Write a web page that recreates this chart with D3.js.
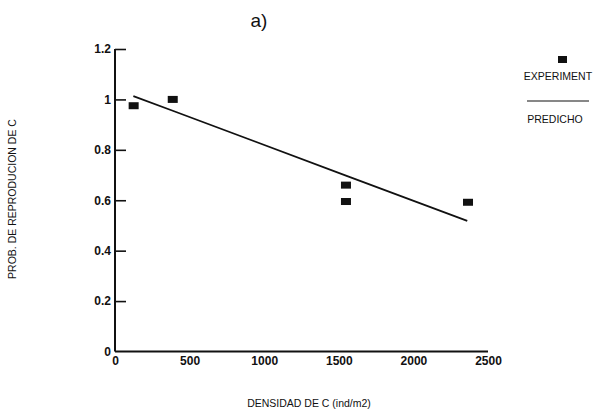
<!DOCTYPE html>
<html>
<head>
<meta charset="utf-8">
<script src="https://cdn.jsdelivr.net/npm/d3@7"></script>
<style>
  html, body { margin: 0; padding: 0; background: #fff; }
  svg { display: block; }
  text { font-family: "Liberation Sans", Arial, sans-serif; fill: #111; }
</style>
</head>
<body>
<svg id="chart" width="596" height="410"></svg>
<script>
// Observed reproduction probability vs. density of C
const densidadObs = [125, 387, 1548, 1548, 2366];
const probObs = [0.975, 1.0, 0.66, 0.595, 0.592];

// Model prediction (linear)
const densidadPred = [123, 387, 1548, 2361];
const probPred = [1.013, 0.955, 0.698, 0.518];

const xTicks = [0, 500, 1000, 1500, 2000, 2500];
const yTicks = [0, 0.2, 0.4, 0.6, 0.8, 1, 1.2];

const svg = d3.select("#chart");
const x = d3.scaleLinear().domain([0, 2500]).range([115, 488]);
const y = d3.scaleLinear().domain([0, 1.2]).range([351.5, 49]);

// Title
svg.append("text").attr("x", 259).attr("y", 27)
  .attr("text-anchor", "middle").style("font-size", "19px")
  .text("a)");

// Y axis: labels from d3.axisLeft, tick marks pointing inward
const yAxis = d3.axisLeft(y).tickValues(yTicks).tickSize(0).tickPadding(4)
  .tickFormat(d3.format("~g"));
const gy = svg.append("g").attr("transform", `translate(${x(0)},0)`).call(yAxis);
gy.select(".domain").attr("d", `M0,${y(1.2)}V${y(0)}`).attr("stroke", "#111").attr("stroke-width", 2);
gy.selectAll(".tick line").remove();
gy.selectAll(".tick").filter(d => d !== 0).append("line")
  .attr("x1", 0).attr("x2", 11).attr("stroke", "#111").attr("stroke-width", 1.6);
gy.selectAll(".tick text")
  .style("font-size", "12px").style("font-weight", "bold").attr("fill", "#111");

// X axis: line with labels, no tick marks
const xAxis = d3.axisBottom(x).tickValues(xTicks).tickSize(0).tickFormat(d3.format("d"));
const gx = svg.append("g").attr("transform", `translate(0,${y(0)})`).call(xAxis);
gx.select(".domain").attr("d", `M${x(0)},0H${x(2500)}`).attr("stroke", "#111").attr("stroke-width", 2);
gx.selectAll(".tick text").attr("y", 5)
  .style("font-size", "12px").style("font-weight", "bold").attr("fill", "#111");

// Axis titles
svg.append("text").attr("x", 309).attr("y", 407).attr("text-anchor", "middle")
  .style("font-size", "10.5px").text("DENSIDAD DE C (ind/m2)");
svg.append("text").attr("transform", "translate(16,199) rotate(-90)")
  .attr("text-anchor", "middle").style("font-size", "10.5px")
  .text("PROB. DE REPRODUCION DE C");

// Prediction line
svg.append("path")
  .datum(densidadPred.map((d, i) => [d, probPred[i]]))
  .attr("fill", "none").attr("stroke", "#111").attr("stroke-width", 1.8)
  .attr("d", d3.line().x(d => x(d[0])).y(d => y(d[1])));

// Observed points (filled rectangles)
svg.selectAll("rect.obs")
  .data(densidadObs.map((d, i) => [d, probObs[i]]))
  .join("rect").attr("class", "obs")
  .attr("x", d => x(d[0]) - 5).attr("y", d => y(d[1]) - 3.5)
  .attr("width", 10).attr("height", 7).attr("fill", "#111");

// Legend
svg.append("rect").attr("x", 558).attr("y", 56).attr("width", 9).attr("height", 7).attr("fill", "#111");
svg.append("text").attr("x", 558).attr("y", 80).attr("text-anchor", "middle")
  .style("font-size", "10.5px").text("EXPERIMENT");
svg.append("line").attr("x1", 527).attr("x2", 589).attr("y1", 101).attr("y2", 101)
  .attr("stroke", "#111").attr("stroke-width", 1.2);
svg.append("text").attr("x", 555).attr("y", 123).attr("text-anchor", "middle")
  .style("font-size", "10.5px").text("PREDICHO");
</script>
</body>
</html>
